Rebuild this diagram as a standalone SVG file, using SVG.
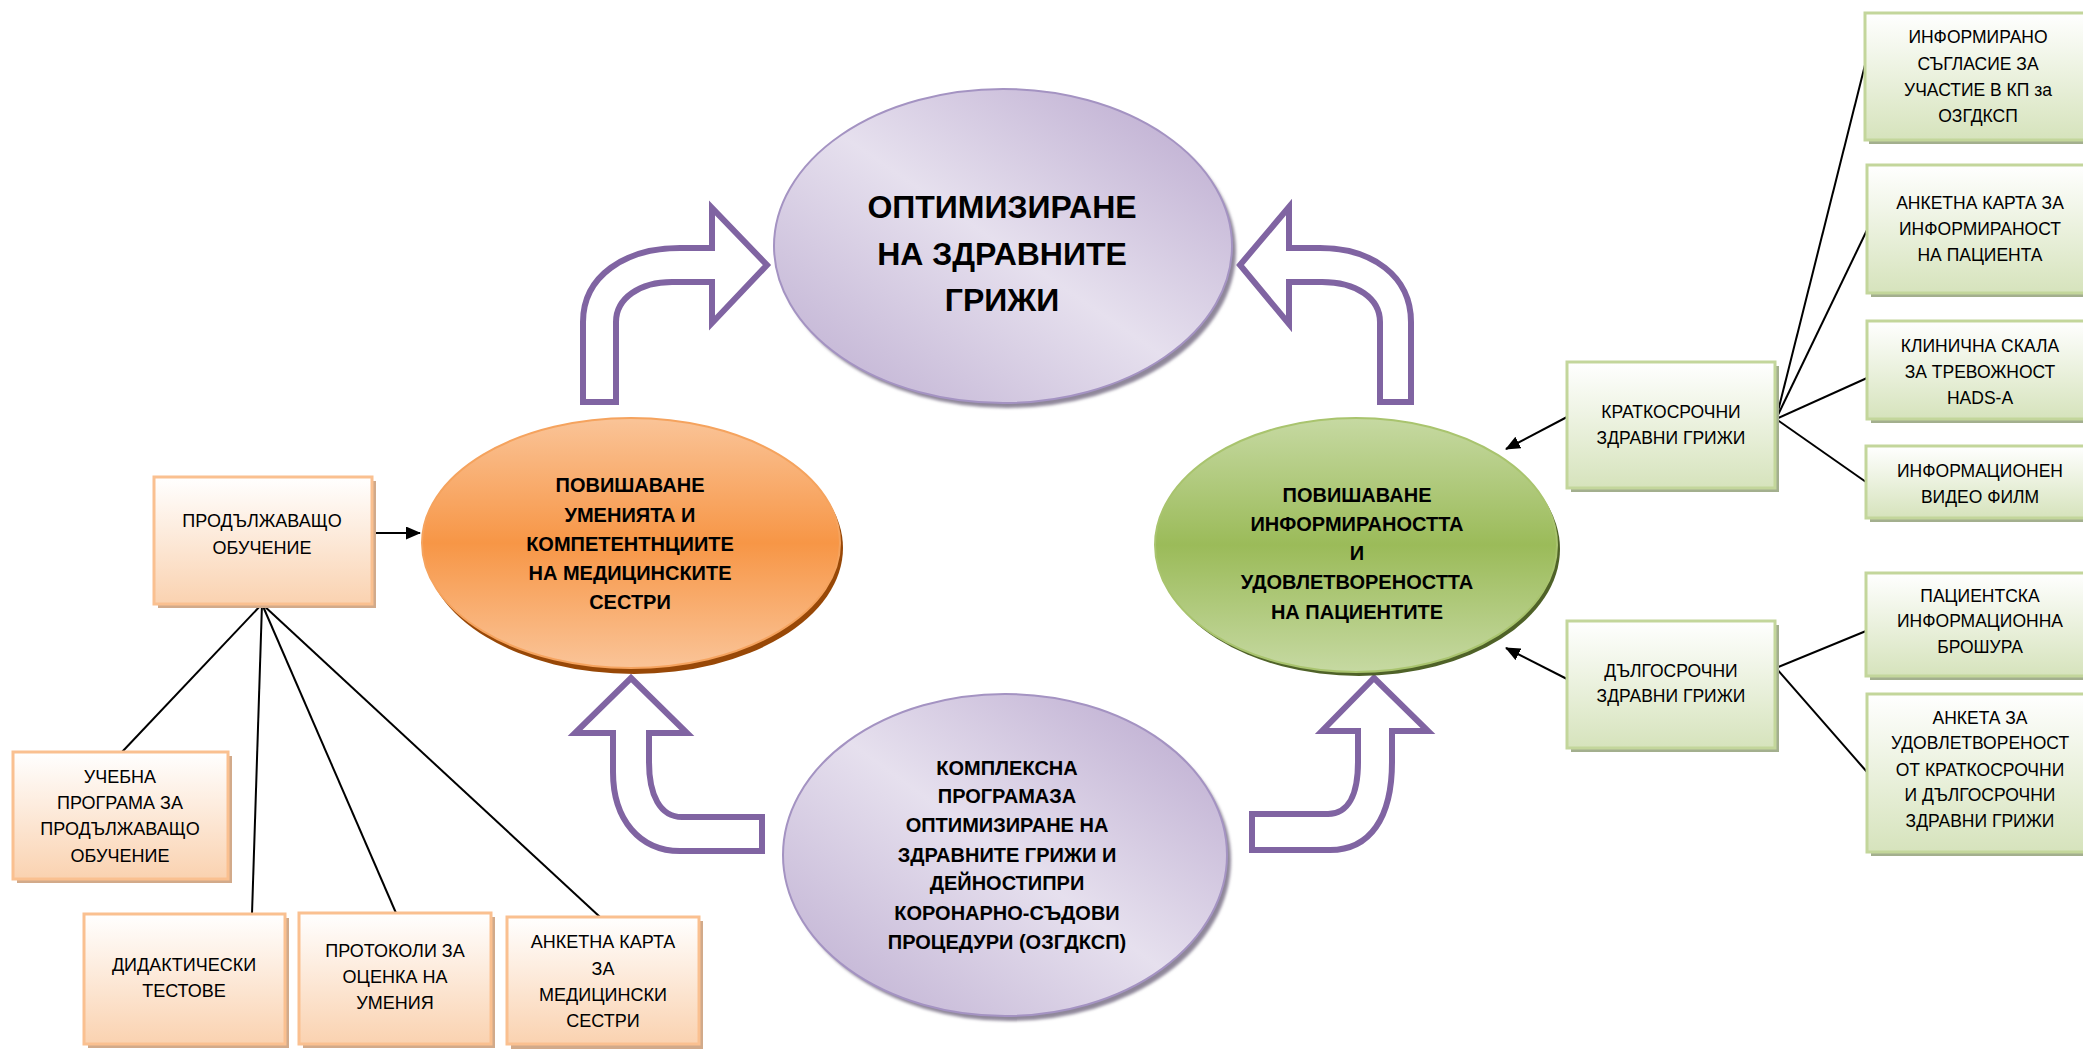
<svg xmlns="http://www.w3.org/2000/svg" width="2083" height="1049" viewBox="0 0 2083 1049">
<defs>
<linearGradient id="gPurple" x1="0" y1="1" x2="1" y2="0">
<stop offset="0" stop-color="#BCACD0"/><stop offset="0.5" stop-color="#E6E0EE"/><stop offset="1" stop-color="#B8A6CD"/>
</linearGradient>
<linearGradient id="gOrange" x1="0" y1="0" x2="0" y2="1">
<stop offset="0" stop-color="#FAC498"/><stop offset="0.5" stop-color="#F79646"/><stop offset="1" stop-color="#FAC498"/>
</linearGradient>
<linearGradient id="gGreen" x1="0" y1="0" x2="0" y2="1">
<stop offset="0" stop-color="#C6D9A2"/><stop offset="0.5" stop-color="#9BBB59"/><stop offset="1" stop-color="#C6D9A2"/>
</linearGradient>
<linearGradient id="gOBox" x1="0" y1="0" x2="0" y2="1">
<stop offset="0" stop-color="#FFFFFF"/><stop offset="1" stop-color="#FAD2B0"/>
</linearGradient>
<linearGradient id="gGBox" x1="0" y1="0" x2="0" y2="1">
<stop offset="0" stop-color="#FFFFFF"/><stop offset="1" stop-color="#D6E3BC"/>
</linearGradient>
<filter id="blur" x="-10%" y="-10%" width="120%" height="120%"><feGaussianBlur stdDeviation="1.5"/></filter>
<marker id="ah" markerWidth="15" markerHeight="13" refX="14" refY="6.5" orient="auto" markerUnits="userSpaceOnUse">
<path d="M0,0 L15,6.5 L0,13 Z" fill="#000"/>
</marker>
</defs>
<style>
.t{font-family:"Liberation Sans",Arial,sans-serif;fill:#000;text-anchor:middle}
.b{font-weight:bold;font-size:20px}
.big{font-weight:bold;font-size:32px}
.ob{font-size:18px}
.gb{font-size:17.5px}
.obox{fill:url(#gOBox);stroke:#FAC090;stroke-width:3}
.oshd{fill:#D2AA8A}
.gbox{fill:url(#gGBox);stroke:#C3D69B;stroke-width:3}
.gshd{fill:#A3AF8E}
.arr{fill:#FFFFFF;stroke:#8064A2;stroke-width:6;stroke-linejoin:miter}
.con{stroke:#000;stroke-width:2;fill:none}
</style>
<rect width="2083" height="1049" fill="#FFFFFF"/>

<g id="connectors">
<line class="con" x1="372" y1="533" x2="420" y2="533" marker-end="url(#ah)"/>
<line class="con" x1="262" y1="604" x2="122" y2="752"/>
<line class="con" x1="262" y1="604" x2="252" y2="914"/>
<line class="con" x1="262" y1="604" x2="396" y2="913"/>
<line class="con" x1="262" y1="604" x2="600" y2="917"/>
<line class="con" x1="1567" y1="417" x2="1506" y2="449" marker-end="url(#ah)"/>
<line class="con" x1="1567" y1="679" x2="1506" y2="648" marker-end="url(#ah)"/>
<line class="con" x1="1776" y1="419" x2="1865" y2="65"/>
<line class="con" x1="1776" y1="419" x2="1867" y2="230"/>
<line class="con" x1="1776" y1="419" x2="1867" y2="378"/>
<line class="con" x1="1776" y1="419" x2="1866" y2="482"/>
<line class="con" x1="1776" y1="668" x2="1866" y2="631"/>
<line class="con" x1="1776" y1="668" x2="1867" y2="772"/>
</g>

<g id="arrow-top-left">
<path class="arr" d="M583,402 L583,322 C583,276 625,248 680,248 L712,248 L712,208 L767,265 L712,323 L712,282 L672,282 C640,282 616,298 616,322 L616,402 Z"/>
</g>
<g id="arrow-top-right">
<path class="arr" d="M1411,402 L1411,322 C1411,276 1372,248 1320,248 L1289,248 L1289,207 L1240,265 L1289,324 L1289,282 L1322,282 C1356,282 1380,298 1380,322 L1380,402 Z"/>
</g>
<g id="arrow-bottom-left">
<path class="arr" d="M631,678 L687,733 L649,733 L649,762 C649,795 660,817 682,817 L762,817 L762,851 L680,851 C640,851 613,820 613,772 L613,733 L575,733 Z"/>
</g>
<g id="arrow-bottom-right">
<path class="arr" d="M1374,678 L1428,731 L1392,731 L1392,762 C1392,818 1370,850 1330,850 L1252,850 L1252,814 L1328,814 C1348,814 1358,795 1358,762 L1358,731 L1322,731 Z"/>
</g>

<g id="node-top">
<ellipse cx="1007" cy="251" rx="229" ry="157" fill="#8F879A" filter="url(#blur)"/>
<ellipse cx="1003" cy="246" rx="229" ry="157" fill="url(#gPurple)" stroke="#A493C2" stroke-width="2"/>
<text class="t big" x="1002" y="218">ОПТИМИЗИРАНЕ</text>
<text class="t big" x="1002" y="265">НА ЗДРАВНИТЕ</text>
<text class="t big" x="1002" y="311">ГРИЖИ</text>
</g>

<g id="node-orange">
<ellipse cx="634" cy="548" rx="209" ry="126" fill="#984807"/>
<ellipse cx="631" cy="543" rx="209" ry="125" fill="url(#gOrange)" stroke="#F5A35E" stroke-width="2"/>
<text class="t b" x="630" y="492">ПОВИШАВАНЕ</text>
<text class="t b" x="630" y="522">УМЕНИЯТА И</text>
<text class="t b" x="630" y="551">КОМПЕТЕНТНЦИИТЕ</text>
<text class="t b" x="630" y="580">НА МЕДИЦИНСКИТЕ</text>
<text class="t b" x="630" y="609">СЕСТРИ</text>
</g>

<g id="node-green">
<ellipse cx="1359" cy="549" rx="201" ry="127" fill="#4F6228"/>
<ellipse cx="1356" cy="545" rx="201" ry="127" fill="url(#gGreen)" stroke="#A9C46E" stroke-width="2"/>
<text class="t b" x="1357" y="502">ПОВИШАВАНЕ</text>
<text class="t b" x="1357" y="531">ИНФОРМИРАНОСТТА</text>
<text class="t b" x="1357" y="560">И</text>
<text class="t b" x="1357" y="589">УДОВЛЕТВОРЕНОСТТА</text>
<text class="t b" x="1357" y="619">НА ПАЦИЕНТИТЕ</text>
</g>

<g id="node-bottom">
<ellipse cx="1009" cy="860" rx="222" ry="161" fill="#8F879A" filter="url(#blur)"/>
<ellipse cx="1005" cy="855" rx="222" ry="161" fill="url(#gPurple)" stroke="#A493C2" stroke-width="2"/>
<text class="t b" x="1007" y="775">КОМПЛЕКСНА</text>
<text class="t b" x="1007" y="803">ПРОГРАМАЗА</text>
<text class="t b" x="1007" y="832">ОПТИМИЗИРАНЕ НА</text>
<text class="t b" x="1007" y="862">ЗДРАВНИТЕ ГРИЖИ И</text>
<text class="t b" x="1007" y="890">ДЕЙНОСТИПРИ</text>
<text class="t b" x="1007" y="920">КОРОНАРНО-СЪДОВИ</text>
<text class="t b" x="1007" y="949">ПРОЦЕДУРИ (ОЗГДКСП)</text>
</g>

<g id="box-prodalzhavashto">
<rect class="oshd" x="158" y="481" width="218" height="127"/>
<rect class="obox" x="154" y="477" width="218" height="127"/>
<text class="t ob" x="262" y="527">ПРОДЪЛЖАВАЩО</text>
<text class="t ob" x="262" y="554">ОБУЧЕНИЕ</text>
</g>
<g id="box-uchebna">
<rect class="oshd" x="17" y="756" width="215" height="127"/>
<rect class="obox" x="13" y="752" width="215" height="127"/>
<text class="t ob" x="120" y="783">УЧЕБНА</text>
<text class="t ob" x="120" y="809">ПРОГРАМА ЗА</text>
<text class="t ob" x="120" y="835">ПРОДЪЛЖАВАЩО</text>
<text class="t ob" x="120" y="862">ОБУЧЕНИЕ</text>
</g>
<g id="box-didakticheski">
<rect class="oshd" x="88" y="918" width="201" height="130"/>
<rect class="obox" x="84" y="914" width="201" height="130"/>
<text class="t ob" x="184" y="971">ДИДАКТИЧЕСКИ</text>
<text class="t ob" x="184" y="997">ТЕСТОВЕ</text>
</g>
<g id="box-protokoli">
<rect class="oshd" x="303" y="917" width="192" height="131"/>
<rect class="obox" x="299" y="913" width="192" height="131"/>
<text class="t ob" x="395" y="957">ПРОТОКОЛИ ЗА</text>
<text class="t ob" x="395" y="983">ОЦЕНКА НА</text>
<text class="t ob" x="395" y="1009">УМЕНИЯ</text>
</g>
<g id="box-anketna-sestri">
<rect class="oshd" x="511" y="921" width="192" height="128"/>
<rect class="obox" x="507" y="917" width="192" height="127"/>
<text class="t ob" x="603" y="948">АНКЕТНА КАРТА</text>
<text class="t ob" x="603" y="975">ЗА</text>
<text class="t ob" x="603" y="1001">МЕДИЦИНСКИ</text>
<text class="t ob" x="603" y="1027">СЕСТРИ</text>
</g>

<g id="box-kratkosrochni">
<rect class="gshd" x="1571" y="366" width="208" height="126"/>
<rect class="gbox" x="1567" y="362" width="208" height="126"/>
<text class="t gb" x="1671" y="418">КРАТКОСРОЧНИ</text>
<text class="t gb" x="1671" y="444">ЗДРАВНИ ГРИЖИ</text>
</g>
<g id="box-dalgosrochni">
<rect class="gshd" x="1571" y="625" width="208" height="127"/>
<rect class="gbox" x="1567" y="621" width="208" height="127"/>
<text class="t gb" x="1671" y="677">ДЪЛГОСРОЧНИ</text>
<text class="t gb" x="1671" y="702">ЗДРАВНИ ГРИЖИ</text>
</g>
<g id="box-informirano">
<rect class="gshd" x="1869" y="17" width="228" height="127"/>
<rect class="gbox" x="1865" y="13" width="228" height="127"/>
<text class="t gb" x="1978" y="43">ИНФОРМИРАНО</text>
<text class="t gb" x="1978" y="70">СЪГЛАСИЕ ЗА</text>
<text class="t gb" x="1978" y="96">УЧАСТИЕ В КП за</text>
<text class="t gb" x="1978" y="122">ОЗГДКСП</text>
</g>
<g id="box-anketna-pacienta">
<rect class="gshd" x="1871" y="169" width="228" height="128"/>
<rect class="gbox" x="1867" y="165" width="228" height="128"/>
<text class="t gb" x="1980" y="209">АНКЕТНА КАРТА ЗА</text>
<text class="t gb" x="1980" y="235">ИНФОРМИРАНОСТ</text>
<text class="t gb" x="1980" y="261">НА ПАЦИЕНТА</text>
</g>
<g id="box-klinichna">
<rect class="gshd" x="1871" y="325" width="228" height="98"/>
<rect class="gbox" x="1867" y="321" width="228" height="98"/>
<text class="t gb" x="1980" y="352">КЛИНИЧНА СКАЛА</text>
<text class="t gb" x="1980" y="378">ЗА ТРЕВОЖНОСТ</text>
<text class="t gb" x="1980" y="404">HADS-A</text>
</g>
<g id="box-video">
<rect class="gshd" x="1870" y="450" width="228" height="72"/>
<rect class="gbox" x="1866" y="446" width="228" height="72"/>
<text class="t gb" x="1980" y="477">ИНФОРМАЦИОНЕН</text>
<text class="t gb" x="1980" y="503">ВИДЕО ФИЛМ</text>
</g>
<g id="box-broshura">
<rect class="gshd" x="1870" y="577" width="228" height="103"/>
<rect class="gbox" x="1866" y="573" width="228" height="103"/>
<text class="t gb" x="1980" y="602">ПАЦИЕНТСКА</text>
<text class="t gb" x="1980" y="627">ИНФОРМАЦИОННА</text>
<text class="t gb" x="1980" y="653">БРОШУРА</text>
</g>
<g id="box-anketa-udovl">
<rect class="gshd" x="1871" y="698" width="228" height="158"/>
<rect class="gbox" x="1867" y="694" width="228" height="158"/>
<text class="t gb" x="1980" y="724">АНКЕТА ЗА</text>
<text class="t gb" x="1980" y="749">УДОВЛЕТВОРЕНОСТ</text>
<text class="t gb" x="1980" y="776">ОТ КРАТКОСРОЧНИ</text>
<text class="t gb" x="1980" y="801">И ДЪЛГОСРОЧНИ</text>
<text class="t gb" x="1980" y="827">ЗДРАВНИ ГРИЖИ</text>
</g>
</svg>
